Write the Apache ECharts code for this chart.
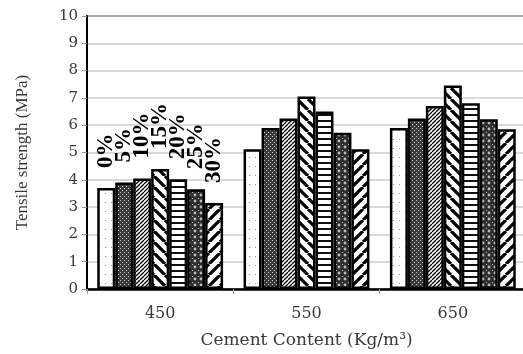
<!DOCTYPE html>
<html>
<head>
<meta charset="utf-8">
<script src="https://cdn.jsdelivr.net/npm/echarts@6/dist/echarts.min.js"></script>
<style>
html,body{margin:0;padding:0;background:#fff;}
#chart{width:523px;height:354px;}
</style>
</head>
<body>
<div id="chart"></div>
<script>
const categories = ['450', '550', '650'];
const seriesNames = ['0%', '5%', '10%', '15%', '20%', '25%', '30%'];
const v0  = [3.7, 5.12, 5.9];
const v5  = [3.9, 5.9, 6.25];
const v10 = [4.05, 6.25, 6.7];
const v15 = [4.4, 7.05, 7.45];
const v20 = [4.02, 6.5, 6.8];
const v25 = [3.65, 5.72, 6.22];
const v30 = [3.15, 5.12, 5.85];
const allValues = [v0, v5, v10, v15, v20, v25, v30];

function pat(w, h, draw) {
  const c = document.createElement('canvas');
  c.width = w; c.height = h;
  const g = c.getContext('2d');
  g.fillStyle = '#fff';
  g.fillRect(0, 0, w, h);
  draw(g, w, h);
  return { image: c, repeat: 'repeat' };
}
function diag(g, s, lw, up) {
  g.strokeStyle = '#000';
  g.lineWidth = lw;
  g.beginPath();
  for (let k = -1; k <= 1; k++) {
    if (up) { g.moveTo(k * s, s); g.lineTo(k * s + s, 0); }
    else { g.moveTo(k * s, 0); g.lineTo(k * s + s, s); }
  }
  g.stroke();
}
const patterns = [
  pat(6, 9, (g) => { g.fillStyle = '#999'; g.fillRect(3, 4, 1, 1); }),
  pat(4, 4, (g) => { g.fillStyle = '#3a3a3a'; g.fillRect(0, 0, 4, 4); g.fillStyle = '#ccc'; g.fillRect(0, 0, 1, 1); g.fillRect(2, 2, 1, 1); }),
  pat(4, 4, (g) => diag(g, 4, 1.3, true)),
  pat(11, 11, (g) => diag(g, 11, 3.2, false)),
  pat(6, 6, (g) => { g.fillStyle = '#111'; g.fillRect(0, 0, 6, 2); }),
  pat(6, 6, (g) => { g.fillStyle = '#2e2e2e'; g.fillRect(0, 0, 6, 6); g.fillStyle = '#bbb'; g.beginPath(); g.arc(3, 3, 1.4, 0, Math.PI * 2); g.fill(); g.fillRect(0,0,1,1); }),
  pat(11, 11, (g) => diag(g, 11, 3.2, true))
];

const serif = "'Liberation Serif', 'DejaVu Serif', serif";
const wideSerif = "'DejaVu Serif', 'Liberation Serif', serif";
const series = seriesNames.map((name, i) => ({
  name: name,
  type: 'bar',
  barGap: '0%',
  barCategoryGap: '14%',
  itemStyle: { color: patterns[i], borderColor: '#000', borderWidth: 2.5 },
  label: {
    show: false,
    position: 'top',
    distance: 20,
    rotate: 90,
    align: 'left',
    verticalAlign: 'middle',
    formatter: '{a}',
    fontFamily: serif,
    fontWeight: 'bold',
    fontSize: 23,
    color: '#000'
  },
  data: allValues[i].map((v, j) => j === 0 ? { value: v, label: { show: true } } : v)
}));

const chart = echarts.init(document.getElementById('chart'));
chart.setOption({
  animation: false,
  backgroundColor: '#fff',
  grid: { left: 87, top: 16, width: 439, height: 273, outerBoundsMode: 'none', containLabel: false, show: true, borderColor: '#000', borderWidth: 1.5, backgroundColor: 'transparent' },
  xAxis: {
    type: 'category',
    data: categories,
    name: 'Cement Content (Kg/m³)',
    nameLocation: 'middle',
    nameGap: 43,
    nameTextStyle: { fontFamily: wideSerif, fontSize: 17, color: '#3a3a3a' },
    axisLine: { lineStyle: { color: '#000', width: 2.5 } },
    axisTick: { show: true, length: 5, lineStyle: { color: '#999' } },
    axisLabel: { fontFamily: wideSerif, fontSize: 16, color: '#3a3a3a', margin: 17 }
  },
  yAxis: {
    type: 'value',
    min: 0, max: 10, interval: 1,
    name: 'Tensile strength (MPa)',
    nameLocation: 'middle',
    nameGap: 56,
    nameTextStyle: { fontFamily: serif, fontSize: 17, color: '#3a3a3a' },
    axisLine: { show: true, lineStyle: { color: '#000', width: 2 } },
    axisTick: { show: true, length: 5, lineStyle: { color: '#999' } },
    axisLabel: { fontFamily: wideSerif, fontSize: 15, color: '#3a3a3a', margin: 9 },
    splitLine: { lineStyle: { color: '#ccc', width: 1.5 } }
  },
  series: series
});
</script>
</body>
</html>
